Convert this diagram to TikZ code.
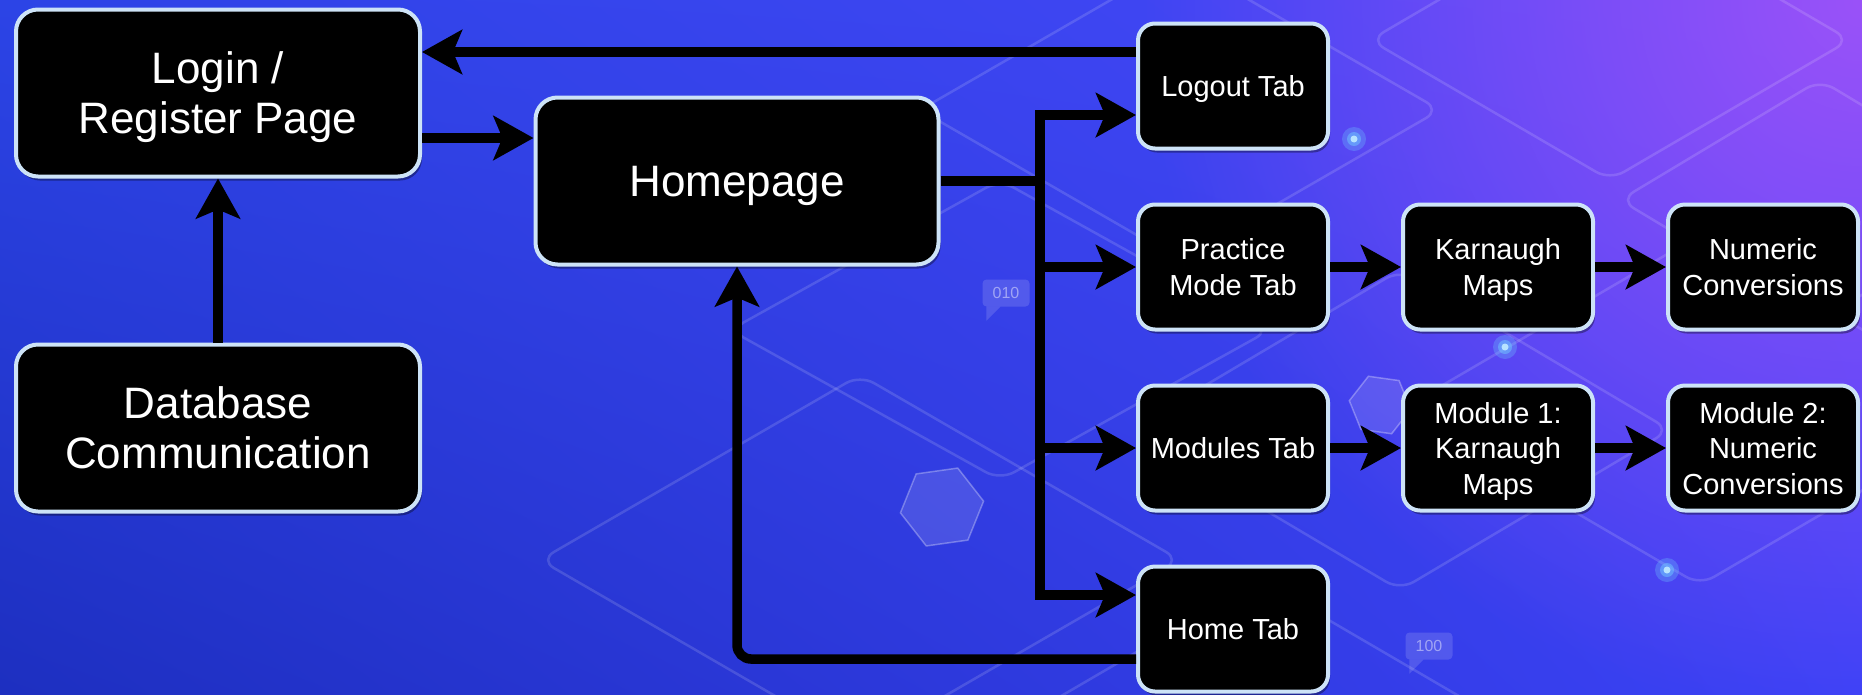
\documentclass[tikz,border=0pt]{standalone}
\usepackage{fontspec}
\setmainfont{Liberation Sans}
\usepackage{tikz}
\usetikzlibrary{positioning,arrows.meta,shadows,fadings,shadings,shapes.geometric}
\definecolor{bgtl}{HTML}{2C44E6}
\definecolor{bgtr}{HTML}{4A46FA}
\definecolor{bgbl}{HTML}{1D2FC0}
\definecolor{bgbr}{HTML}{3C42F6}
\definecolor{glowpurple}{HTML}{9A52F8}
\definecolor{boxrim}{HTML}{CDE3F7}
\definecolor{dotglow}{HTML}{6FC8FF}
\tikzfading[name=glowfade, inner color=transparent!0, outer color=transparent!100]
\tikzset{
  pagebox/.style={draw=boxrim,line width=4pt,fill=black,rounded corners=22pt,align=center,text=white,
    minimum width=404pt,minimum height=167pt,text depth=0pt,font=\fontsize{44}{50}\selectfont,
    drop shadow={shadow xshift=2pt,shadow yshift=-4pt,fill=black,opacity=.35}},
  tabbox/.style={draw=boxrim,line width=4pt,fill=black,rounded corners=17pt,align=center,text=white,
    minimum width=190pt,minimum height=125pt,inner sep=2pt,text depth=0pt,font=\fontsize{29}{35.5}\selectfont,
    drop shadow={shadow xshift=2pt,shadow yshift=-4pt,fill=black,opacity=.35}},
  flowline/.style={line width=9.5pt,black},
  flowarr/.style={-{Stealth[length=40pt,width=44pt,inset=9pt]},line width=9.5pt,black},
  % background ornaments
  decoline/.style={draw=white,draw opacity=.14,line width=2.5pt,rounded corners=16pt},
  bubble/.style={fill=white,fill opacity=.14,text=white,text opacity=.45,rounded corners=4pt,
    minimum width=47pt,minimum height=27pt,inner sep=2pt,font=\fontsize{16}{16}\selectfont},
  hexa/.style={regular polygon,regular polygon sides=6,minimum size=84pt,fill=white,fill opacity=.12,
    draw=white,draw opacity=.3,line width=1.5pt}
}
\newcommand{\decorhomb}[4]{\draw[decoline] (#1-#3,#2) -- (#1,#2-#4) -- (#1+#3,#2) -- (#1,#2+#4) -- cycle;}
\newcommand{\glowdot}[2]{\fill[dotglow,opacity=.3] (#1,#2) circle (12pt); \fill[dotglow,opacity=.5] (#1,#2) circle (7pt); \fill[white!50!dotglow] (#1,#2) circle (3.5pt);}

\begin{document}
\begin{tikzpicture}[x=1pt,y=-1pt,node distance=52pt and 71pt]
  \useasboundingbox (0,0) rectangle (1862,694);
  % background
  \begin{scope}
    \clip (0,0) rectangle (1862,694);
    \shade[upper left=bgtl,upper right=bgtr,lower left=bgbl,lower right=bgbr] (0,0) rectangle (1862,694);
    \fill[glowpurple,path fading=glowfade] (1862,0) circle (720pt);
    \decorhomb{1180}{110}{260}{150}
    \decorhomb{1610}{40}{240}{140}
    \decorhomb{1700}{410}{300}{175}
    \decorhomb{1400}{430}{270}{160}
    \decorhomb{1000}{330}{270}{150}
    \decorhomb{860}{560}{320}{185}
    \decorhomb{1260}{720}{240}{140}
    \decorhomb{1820}{200}{200}{120}
    \node[hexa,rotate=8] (hexone) at (942,507) {};
    \node[hexa,rotate=-8,minimum size=62pt] (hextwo) at (1380,405) {};
    \node[bubble] (bitsa) at (1006,293) {010};
    \fill[white,opacity=.14] ([xshift=4pt]bitsa.south west) -- ++(0,14) -- ++(14,-14) -- cycle;
    \node[bubble] (bitsb) at (1429,646) {100};
    \fill[white,opacity=.14] ([xshift=4pt]bitsb.south west) -- ++(0,14) -- ++(14,-14) -- cycle;
    \glowdot{1354}{139}
    \glowdot{1505}{347}
    \glowdot{1667}{570}
  \end{scope}

  % pages
  \node[pagebox] (login) at (218,93) {Login /\\Register Page};
  \node[pagebox] (dbcom) at (218,428) {Database\\Communication};
  \node[pagebox,minimum width=403pt] (home) at (737,181) {Homepage};

  % tabs
  \node[tabbox] (logout) at (1233,86) {Logout Tab};
  \node[tabbox,below=of logout] (practice) {Practice\\Mode Tab};
  \node[tabbox,right=of practice] (kmap) {Karnaugh\\Maps};
  \node[tabbox,right=of kmap] (numconv) {Numeric\\Conversions};
  \node[tabbox,below=of practice] (modules) {Modules Tab};
  \node[tabbox,right=of modules] (modone) {Module 1:\\Karnaugh\\Maps};
  \node[tabbox,right=of modone] (modtwo) {Module 2:\\Numeric\\Conversions};
  \node[tabbox,below=of modules] (hometab) {Home Tab};

  % connectors
  \coordinate (bus) at (1040,181);
  \draw[flowarr] ([yshift=34pt]logout.west) -- ([yshift=34pt]logout.west -| login.east);
  \draw[flowarr] ([yshift=-45pt]login.east) -- ([yshift=-45pt]login.east -| home.west);
  \draw[flowarr] (dbcom.north) -- (login.south);
  \draw[flowline] (home.east) -- (bus);
  \draw[flowarr] (bus) |- ([yshift=-29pt]logout.west);
  \draw[flowarr] (bus) |- (practice.west);
  \draw[flowarr] (bus) |- (modules.west);
  \draw[flowarr] (bus) |- ([yshift=34pt]hometab.west);
  \draw[flowarr,rounded corners=14pt] ([yshift=-30pt]hometab.west) -| (home.south);
  \draw[flowarr] (practice) -- (kmap);
  \draw[flowarr] (kmap) -- (numconv);
  \draw[flowarr] (modules) -- (modone);
  \draw[flowarr] (modone) -- (modtwo);
\end{tikzpicture}
\end{document}
